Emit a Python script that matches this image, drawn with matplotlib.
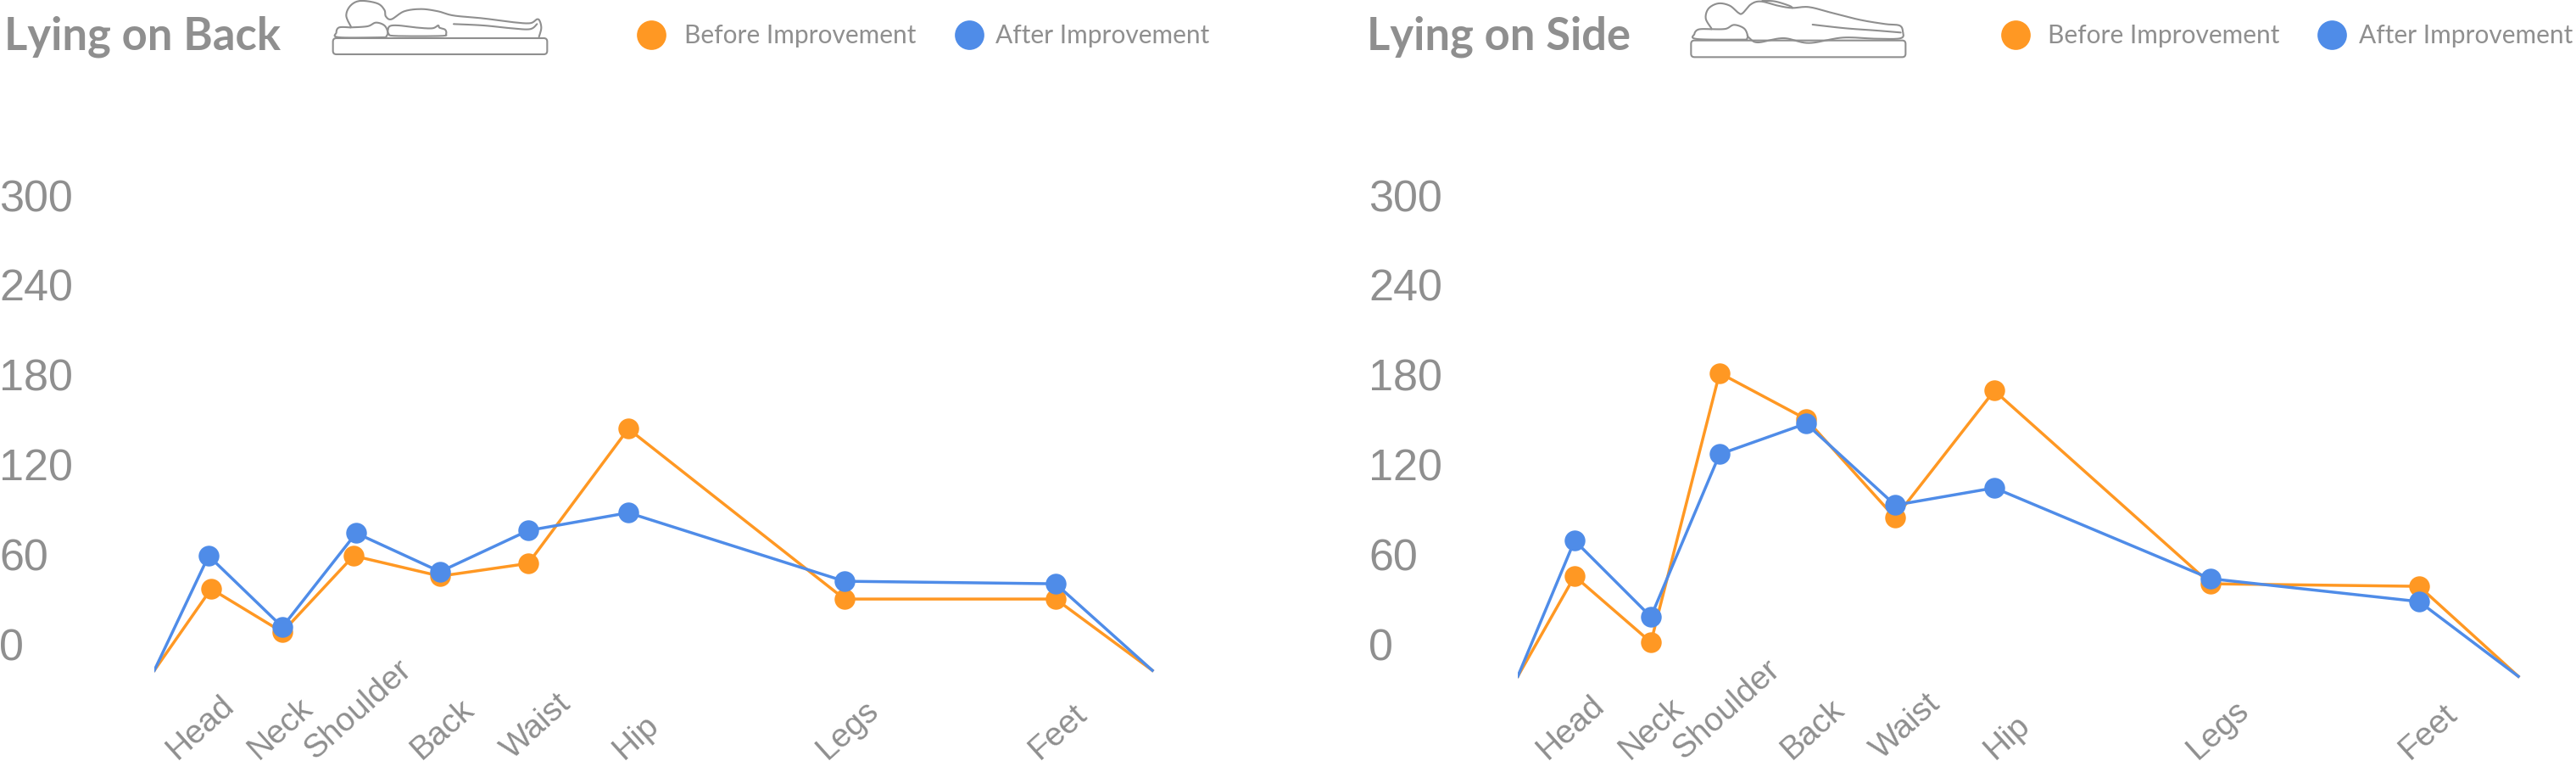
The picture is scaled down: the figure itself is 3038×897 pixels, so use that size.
"""Pressure by body part before and after improvement, lying on back and on side."""

import matplotlib
matplotlib.use("Agg")

import matplotlib.pyplot as plt
import numpy as np
from matplotlib.lines import Line2D
from matplotlib.patches import FancyBboxPatch
from matplotlib.transforms import IdentityTransform, ScaledTranslation

W, H = 3038, 897
GREY = "#8f8f8f"
ORANGE = "#ff9823"
BLUE = "#4f8ce8"

BODY_PARTS = ["Head", "Neck", "Shoulder", "Back", "Waist", "Hip", "Legs", "Feet"]
Y_TICKS = [0, 60, 120, 180, 240, 300]

# position along the mattress, first and last entries are the line ends
BACK_X_BEFORE = [0, 67, 151, 235, 337, 441, 559, 814, 1063, 1177]
BACK_X_AFTER = [0, 64, 151, 238, 337, 441, 559, 814, 1063, 1177]
BACK_BEFORE = [-16, 38.5, 9.6, 60.6, 47, 55.5, 145.5, 31.7, 31.7, -16]
BACK_AFTER = [-16, 60.6, 13, 75.8, 50, 77.5, 89.4, 43.6, 41.9, -16]
BACK_LABEL_X = [55, 149, 240, 340, 451, 568, 818, 1066]

SIDE_X = [0, 67, 157, 238, 340, 445, 562, 817, 1063, 1180]
SIDE_BEFORE = [-20, 47, 2.8, 182.8, 152, 86, 171, 41.9, 40.2, -20]
SIDE_AFTER = [-20, 70.8, 19.8, 128.5, 149, 94.5, 106, 45.3, 30, -20]
SIDE_LABEL_X = [63, 158, 246, 348, 458, 577, 826, 1074]

BACK_PERSON = [
    [(132, 95), (115, 55), (130, 20), (165, 3), (225, 12), (250, 35), (255, 58), (275, 68),
     (320, 40), (380, 32), (440, 40), (495, 55), (600, 65), (700, 78), (765, 82), (790, 68),
     (800, 75), (805, 100), (797, 130)],
    [(130, 97), (90, 97), (80, 115), (90, 132), (255, 132)],
    [(130, 97), (190, 93), (220, 80), (250, 90), (262, 115), (255, 132)],
    [(262, 105), (270, 92), (300, 90), (370, 98), (420, 100), (440, 90), (445, 98), (465, 105),
     (468, 120), (450, 127), (290, 127), (265, 120), (262, 105)],
    [(495, 85), (600, 90), (700, 100), (765, 103), (790, 85)],
]
SIDE_PERSON = [
    [(175, 100), (155, 65), (165, 30), (200, 12), (240, 20), (270, 45), (285, 47), (315, 15),
     (350, 5), (410, 20), (460, 28), (520, 25), (600, 45), (700, 70), (790, 85), (840, 90),
     (852, 110), (845, 135), (760, 137), (640, 133), (520, 152), (430, 135), (340, 150),
     (310, 135), (302, 125)],
    [(175, 103), (130, 104), (115, 120), (125, 138), (300, 140)],
    [(175, 103), (225, 102), (255, 88), (290, 100), (303, 125), (300, 140)],
    [(355, 3), (400, 5), (450, 20), (462, 28)],
    [(533, 87), (650, 100), (760, 108), (845, 115)],
]


def fx(px):
    return px / W


def fy(py):
    return 1 - py / H


def smooth(points, steps=12):
    """Catmull-Rom through the outline points, only used for the icons."""
    pts = np.array(points, dtype=float)
    pts = np.vstack([pts[0], pts, pts[-1]])
    out = []
    for i in range(1, len(pts) - 2):
        p0, p1, p2, p3 = pts[i - 1], pts[i], pts[i + 1], pts[i + 2]
        for t in np.linspace(0, 1, steps):
            out.append(0.5 * (2 * p1 + (p2 - p0) * t + (2 * p0 - 5 * p1 + 4 * p2 - p3) * t ** 2
                              + (3 * p1 - p0 - 3 * p2 + p3) * t ** 3))
    return np.array(out)


def draw_icon(fig, outlines, x0, bed):
    left, right, top, bottom = bed
    for outline in outlines:
        curve = smooth(outline)
        fig.add_artist(Line2D(fx(x0 + curve[:, 0] / 3), fy(curve[:, 1] / 3),
                              color=GREY, lw=1.5, solid_capstyle="round"))
    fig.add_artist(FancyBboxPatch((x0 + left / 3, H - bottom / 3), (right - left) / 3, (bottom - top) / 3,
                                  boxstyle="round,pad=0,rounding_size=4", fill=False, edgecolor=GREY,
                                  lw=1.5, transform=IdentityTransform()))


def draw_legend(fig, before_x, before_text_x, after_x, after_text_x):
    for cx, tx, color, label in [(before_x, before_text_x, ORANGE, "Before Improvement"),
                                 (after_x, after_text_x, BLUE, "After Improvement")]:
        fig.add_artist(Line2D([fx(cx)], [fy(41)], marker="o", ms=25, color=color, mew=0, ls="none"))
        fig.text(fx(tx), fy(40), label, color=GREY, fontsize=21.5, family="Lato",
                 ha="left", va="center_baseline")


def draw_chart(fig, left_px, right_px, xs_before, xs_after, before, after, label_x, label_px):
    ax = fig.add_axes([fx(left_px), fy(895), fx(right_px - left_px), fy(100) - fy(895)])
    ax.set_xlim(0, right_px - left_px)
    ax.set_ylim((762 - 895) * 60 / 105.8, (762 - 100) * 60 / 105.8)
    ax.patch.set_alpha(0)
    for spine in ax.spines.values():
        spine.set_visible(False)

    points = list(range(1, 9))
    ax.plot(xs_before, before, color=ORANGE, lw=2.5, marker="o", ms=17.6, mew=0, markevery=points)
    ax.plot(xs_after, after, color=BLUE, lw=2.5, marker="o", ms=17.6, mew=0, markevery=points)

    ax.set_yticks(Y_TICKS)
    ax.set_yticklabels([str(t) for t in Y_TICKS], family="Liberation Sans", fontsize=37.5, color=GREY,
                       ha="left", va="center_baseline")
    ax.tick_params(axis="y", length=0, pad=(left_px - label_px) * 0.72)
    nudge = ScaledTranslation(0, 3 / 100, fig.dpi_scale_trans)
    for label in ax.get_yticklabels():
        label.set_transform(label.get_transform() + nudge)

    ax.set_xticks(label_x)
    ax.set_xticklabels(BODY_PARTS, family="Liberation Sans", fontsize=28, color=GREY,
                       rotation=42, ha="center", va="bottom")
    ax.tick_params(axis="x", length=0, pad=5)
    return ax


def main():
    fig = plt.figure(figsize=(W / 100, H / 100), dpi=100)

    draw_chart(fig, 182, 1500, BACK_X_BEFORE, BACK_X_AFTER, BACK_BEFORE, BACK_AFTER, BACK_LABEL_X, -1)
    draw_chart(fig, 1790, W, SIDE_X, SIDE_X, SIDE_BEFORE, SIDE_AFTER, SIDE_LABEL_X, 1614)

    for x, title in [(5, "Lying on Back"), (1612, "Lying on Side")]:
        fig.text(fx(x), fy(59), title, color=GREY, fontsize=37.8, fontweight="bold", family="Lato",
                 ha="left", va="baseline")

    draw_legend(fig, 768, 807, 1143, 1174)
    draw_legend(fig, 2377, 2415, 2750, 2782)

    draw_icon(fig, BACK_PERSON, 370, (68, 826, 135, 192))
    draw_icon(fig, SIDE_PERSON, 1960, (103, 862, 143, 202))

    fig.savefig("out.png", dpi=100)
    plt.close(fig)


if __name__ == "__main__":
    main()
